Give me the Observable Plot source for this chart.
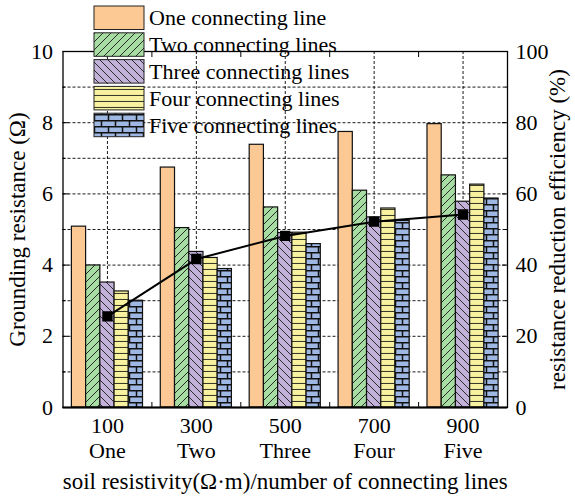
<!DOCTYPE html>
<html>
<head>
<meta charset="utf-8">
<script src="https://cdn.jsdelivr.net/npm/d3@7"></script>
<script src="https://cdn.jsdelivr.net/npm/@observablehq/plot@0.6"></script>
<style>
  html, body { margin: 0; padding: 0; background: #fff; }
  #chart { width: 575px; height: 496px; }
  #chart svg, #chart svg text { font-family: "Liberation Serif", "Times New Roman", Times, serif !important; }
</style>
</head>
<body>
<div id="chart"></div>
<script>
// ---- data ----
const rho = [100, 300, 500, 700, 900];
const lineCounts = ["One", "Two", "Three", "Four", "Five"];
const seriesNames = ["One connecting line", "Two connecting lines", "Three connecting lines", "Four connecting lines", "Five connecting lines"];
const oneLine   = [5.08, 6.74, 7.38, 7.74, 7.96];
const twoLines  = [3.99, 5.04, 5.62, 6.09, 6.52];
const threeLines= [3.51, 4.37, 4.90, 5.34, 5.78];
const fourLines = [3.26, 4.20, 4.91, 5.59, 6.26];
const fiveLines = [3.00, 3.89, 4.59, 5.24, 5.87];
const efficiency = [25.6, 41.7, 48.2, 52.2, 54.2];
const leftTicks = [0, 2, 4, 6, 8, 10];
const rightTickLabels = [0, 20, 40, 60, 80, 100];

const seriesValues = [oneLine, twoLines, threeLines, fourLines, fiveLines];
const patternIds = ["p-one", "p-two", "p-three", "p-four", "p-five"];
const barWidth = 32; // in soil-resistivity units

const font = "'Liberation Serif', 'Times New Roman', serif";
const FS = 22;

const barMarks = seriesValues.map((vals, i) => {
  const rows = rho.map((r, j) => ({r, v: vals[j]}));
  return Plot.rectY(rows, {
    x1: d => d.r + (i - 2.5) * barWidth,
    x2: d => d.r + (i - 1.5) * barWidth,
    y1: 0, y2: d => d.v,
    fill: `url(#${patternIds[i]})`,
    stroke: "#111", strokeWidth: 1.2
  });
});

const effRows = rho.map((r, j) => ({r, e: efficiency[j]}));
const txt = {fontSize: FS, fontFamily: font};
const title = {fontSize: 23, fontFamily: font, textAnchor: "middle", lineAnchor: "middle"};

const chart = Plot.plot({
  width: 575, height: 496,
  marginLeft: 62.5, marginRight: 68, marginTop: 51, marginBottom: 89,
  style: {background: "#fff", color: "#000"},
  x: {domain: [0, 1000]},
  y: {domain: [0, 10]},
  marks: [
    Plot.gridX(rho, {stroke: "#000", strokeOpacity: 1, strokeDasharray: "3,2", strokeWidth: 0.9}),
    Plot.gridY(d3.range(1, 10), {stroke: "#000", strokeOpacity: 1, strokeDasharray: "3,2", strokeWidth: 0.9}),
    ...barMarks,
    Plot.line(effRows, {x: "r", y: d => d.e / 10, stroke: "#000", strokeWidth: 2}),
    Plot.dot(effRows, {x: "r", y: d => d.e / 10, symbol: "square", r: 5, fill: "#000", stroke: "#000"}),
    Plot.frame({stroke: "#000", strokeWidth: 1.3}),
    Plot.ruleY([0], {stroke: "#000", strokeWidth: 2.2}),
    Plot.axisY(leftTicks, {anchor: "left", tickSize: -6, tickPadding: 16, label: null, ...txt}),
    Plot.axisY(d3.range(1, 10, 2), {anchor: "left", tickSize: -3, tickFormat: () => "", label: null}),
    Plot.axisY(leftTicks, {anchor: "right", tickSize: -6, tickPadding: 14, label: null,
      tickFormat: (d, i) => rightTickLabels[i], ...txt}),
    Plot.axisY(d3.range(1, 10, 2), {anchor: "right", tickSize: -3, tickFormat: () => "", label: null}),
    Plot.axisX([200, 400, 600, 800], {anchor: "bottom", tickSize: -5, tickFormat: () => "", label: null}),
    Plot.axisX([200, 400, 600, 800], {anchor: "top", tickSize: -5, tickFormat: () => "", label: null}),
    Plot.text(rho, {x: d => d, y: 0, text: d => String(d), dy: 18.5, lineAnchor: "middle", ...txt}),
    Plot.text(rho, {x: d => d, y: 0, text: (d, i) => lineCounts[i], dy: 43.5, lineAnchor: "middle", ...txt}),
    Plot.text(["soil resistivity(Ω·m)/number of connecting lines"], {frameAnchor: "bottom", dy: 74.5, ...title}),
    Plot.text(["Grounding resistance (Ω)"], {frameAnchor: "left", dx: -45, rotate: -90, ...title}),
    Plot.text(["resistance reduction efficiency (%)"], {frameAnchor: "right", dx: 50, rotate: -90, ...title})
  ]
});

const svg = d3.select(chart);
svg.attr("font-family", font);
const defs = svg.insert("defs", ":first-child");
const colors = ["#FCC893", "#A7DCA2", "#C2B2DA", "#F8F2A0", "#9FB8E3"];

defs.append("pattern").attr("id", "p-one").attr("patternUnits", "userSpaceOnUse")
  .attr("width", 8).attr("height", 8)
  .call(p => p.append("rect").attr("width", 8).attr("height", 8).attr("fill", colors[0]));
defs.append("pattern").attr("id", "p-two").attr("patternUnits", "userSpaceOnUse")
  .attr("width", 8).attr("height", 8)
  .call(p => {
    p.append("rect").attr("width", 8).attr("height", 8).attr("fill", colors[1]);
    p.append("path").attr("d", "M-2,2L2,-2M0,8L8,0M6,10L10,6").attr("stroke", "#1a1a1a").attr("stroke-width", 0.9);
  });
defs.append("pattern").attr("id", "p-three").attr("patternUnits", "userSpaceOnUse")
  .attr("width", 8).attr("height", 8)
  .call(p => {
    p.append("rect").attr("width", 8).attr("height", 8).attr("fill", colors[2]);
    p.append("path").attr("d", "M-2,6L2,10M0,0L8,8M6,-2L10,2").attr("stroke", "#1a1a1a").attr("stroke-width", 0.9);
  });
defs.append("pattern").attr("id", "p-four").attr("patternUnits", "userSpaceOnUse")
  .attr("width", 8).attr("height", 6)
  .call(p => {
    p.append("rect").attr("width", 8).attr("height", 6).attr("fill", colors[3]);
    p.append("path").attr("d", "M0,5.5H8").attr("stroke", "#3a3a2a").attr("stroke-width", 1.1);
  });
defs.append("pattern").attr("id", "p-five").attr("patternUnits", "userSpaceOnUse")
  .attr("width", 14).attr("height", 12)
  .call(p => {
    p.append("rect").attr("width", 14).attr("height", 12).attr("fill", colors[4]);
    p.append("path").attr("d", "M0,0.75H14M0,6.75H14M3.5,0V6M10.5,6V12").attr("stroke", "#111").attr("stroke-width", 1.5);
  });

const legend = svg.append("g").attr("font-family", font).attr("font-size", FS).attr("text-anchor", "start");
seriesNames.forEach((name, i) => {
  const y0 = 6 + i * 26.8;
  legend.append("rect").attr("x", 94).attr("y", y0).attr("width", 50).attr("height", 23.5)
    .attr("fill", `url(#${patternIds[i]})`).attr("stroke", "#222").attr("stroke-width", 1);
  legend.append("text").attr("x", 149).attr("y", y0 + 12).attr("dy", "0.34em")
    .attr("fill", "#000").attr("text-anchor", "start").text(name);
});

document.getElementById("chart").appendChild(chart);
</script>
</body>
</html>
